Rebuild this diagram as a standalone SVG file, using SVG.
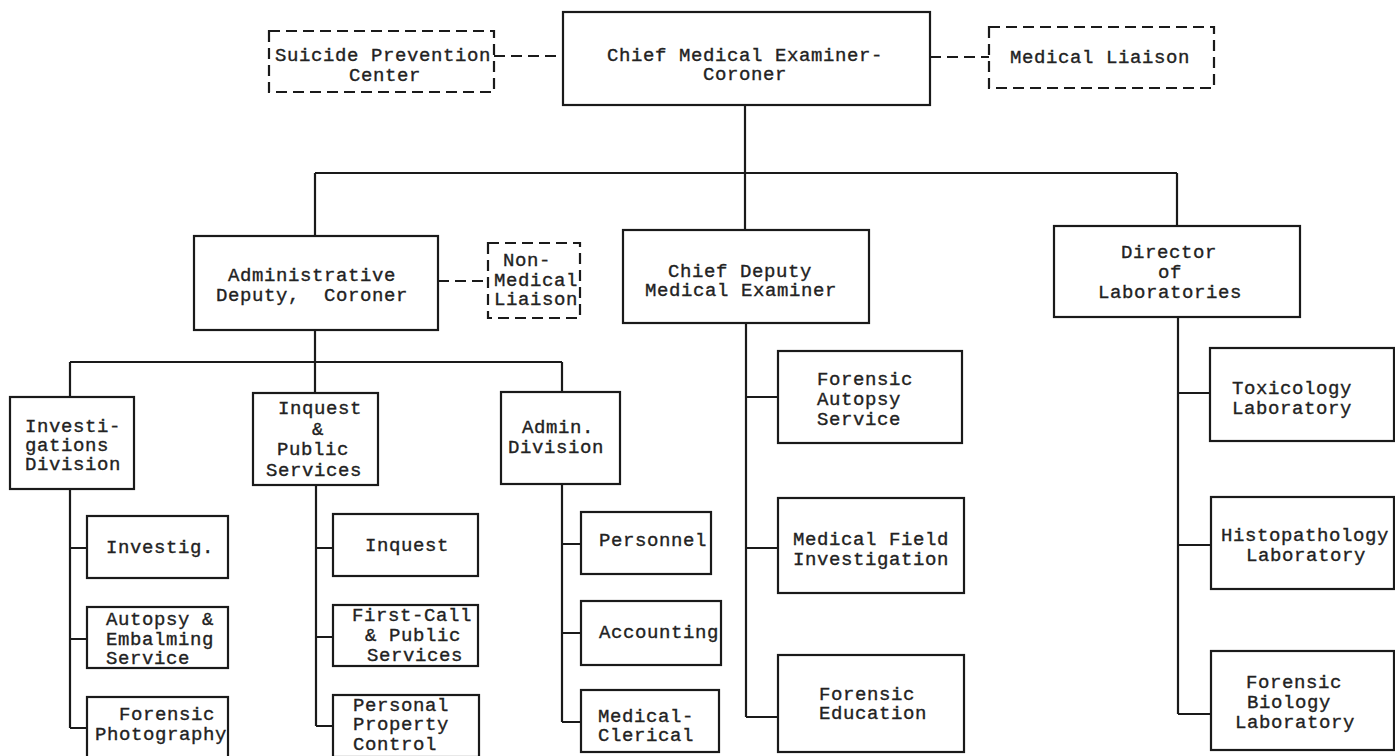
<svg xmlns="http://www.w3.org/2000/svg" width="1395" height="756" viewBox="0 0 1395 756">
<style>
.box{fill:#fff;stroke:#1a1a1a;stroke-width:2.2}
.dbox{fill:#fff;stroke:#1a1a1a;stroke-width:2.2;stroke-dasharray:11 6}
.ln{fill:none;stroke:#1a1a1a;stroke-width:2.2}
.dln{fill:none;stroke:#1a1a1a;stroke-width:2.2;stroke-dasharray:11 6}
text{font-family:"Liberation Mono","DejaVu Sans Mono",monospace;font-size:19px;letter-spacing:0.6px;fill:#222;stroke:#222;stroke-width:0.35;white-space:pre}
.m{text-anchor:middle}
</style>
<rect width="1395" height="756" fill="#fff"/>
<g id="connectors">
<path class="dln" d="M494 56 H563"/>
<path class="dln" d="M930 57 H989"/>
<path class="dln" d="M438 281 H488"/>
<path class="ln" d="M745 105 V173 M315 173 H1177 M315 173 V236 M745 173 V230 M1177 173 V226"/>
<path class="ln" d="M315 330 V362 M70 362 H562 M70 362 V397 M315 362 V393 M562 362 V392"/>
<path class="ln" d="M70 489 V728 M70 548 H87 M70 639 H87 M70 728 H87"/>
<path class="ln" d="M316 485 V726 M316 548 H333 M316 637 H333 M316 726 H333"/>
<path class="ln" d="M562 484 V722 M562 544 H580 M562 633 H580 M562 722 H580"/>
<path class="ln" d="M746 323 V717 M746 397 H778 M746 548 H778 M746 717 H778"/>
<path class="ln" d="M1178 317 V714 M1178 393 H1210 M1178 545 H1211 M1178 714 H1211"/>
</g>
<g id="n-cme"><rect class="box" x="563" y="12" width="367" height="93"/><text class="m" x="745" y="61">Chief Medical Examiner-</text><text class="m" x="745" y="80">Coroner</text></g>
<g id="n-spc"><rect class="dbox" x="269" y="31" width="225" height="61"/><text class="m" x="383" y="61">Suicide Prevention</text><text class="m" x="385" y="81">Center</text></g>
<g id="n-ml"><rect class="dbox" x="989" y="27" width="225" height="61"/><text class="m" x="1100" y="63">Medical Liaison</text></g>
<g id="n-adc"><rect class="box" x="194" y="236" width="244" height="94"/><text class="m" x="312" y="281">Administrative</text><text class="m" x="312" y="301">Deputy,  Coroner</text></g>
<g id="n-nml"><rect class="dbox" x="488" y="243" width="92" height="75"/><text x="503" y="266">Non-</text><text x="494" y="286">Medical</text><text x="494" y="305">Liaison</text></g>
<g id="n-cdme"><rect class="box" x="623" y="230" width="246" height="93"/><text class="m" x="740" y="277">Chief Deputy</text><text class="m" x="741" y="296">Medical Examiner</text></g>
<g id="n-dol"><rect class="box" x="1054" y="226" width="246" height="91"/><text class="m" x="1169" y="258">Director</text><text class="m" x="1170" y="278">of</text><text class="m" x="1170" y="298">Laboratories</text></g>
<g id="n-inv"><rect class="box" x="10" y="397" width="124" height="92"/><text x="25" y="432">Investi-</text><text x="25" y="451">gations</text><text x="25" y="470">Division</text></g>
<g id="n-ips"><rect class="box" x="253" y="393" width="125" height="92"/><text class="m" x="320" y="414">Inquest</text><text class="m" x="318" y="435">&amp;</text><text class="m" x="313" y="455">Public</text><text class="m" x="314" y="476">Services</text></g>
<g id="n-adm"><rect class="box" x="501" y="392" width="119" height="92"/><text class="m" x="558" y="433">Admin.</text><text class="m" x="556" y="453">Division</text></g>
<g id="n-investig"><rect class="box" x="87" y="516" width="141" height="62"/><text x="106" y="553">Investig.</text></g>
<g id="n-aes"><rect class="box" x="87" y="607" width="141" height="61"/><text x="106" y="625">Autopsy &amp;</text><text x="106" y="645">Embalming</text><text x="106" y="664">Service</text></g>
<g id="n-fp"><rect class="box" x="87" y="697" width="141" height="62"/><text x="119" y="720">Forensic</text><text x="95" y="740">Photography</text></g>
<g id="n-inq"><rect class="box" x="333" y="514" width="145" height="62"/><text class="m" x="407" y="551">Inquest</text></g>
<g id="n-fc"><rect class="box" x="333" y="605" width="145" height="61"/><text x="352" y="621">First-Call</text><text x="365" y="641">&amp; Public</text><text x="367" y="661">Services</text></g>
<g id="n-ppc"><rect class="box" x="333" y="695" width="146" height="62"/><text x="353" y="711">Personal</text><text x="353" y="730">Property</text><text x="353" y="750">Control</text></g>
<g id="n-per"><rect class="box" x="581" y="512" width="130" height="62"/><text class="m" x="653" y="546">Personnel</text></g>
<g id="n-acc"><rect class="box" x="581" y="601" width="140" height="64"/><text class="m" x="659" y="638">Accounting</text></g>
<g id="n-mc"><rect class="box" x="581" y="690" width="138" height="62"/><text x="598" y="722">Medical-</text><text x="598" y="741">Clerical</text></g>
<g id="n-fas"><rect class="box" x="778" y="351" width="184" height="92"/><text x="817" y="385">Forensic</text><text x="817" y="405">Autopsy</text><text x="817" y="425">Service</text></g>
<g id="n-mfi"><rect class="box" x="778" y="498" width="186" height="95"/><text class="m" x="871" y="545">Medical Field</text><text class="m" x="871" y="565">Investigation</text></g>
<g id="n-fe"><rect class="box" x="778" y="655" width="186" height="97"/><text x="819" y="700">Forensic</text><text x="819" y="719">Education</text></g>
<g id="n-tox"><rect class="box" x="1210" y="348" width="184" height="93"/><text x="1232" y="394">Toxicology</text><text x="1232" y="414">Laboratory</text></g>
<g id="n-his"><rect class="box" x="1211" y="497" width="183" height="92"/><text x="1221" y="541">Histopathology</text><text x="1246" y="561">Laboratory</text></g>
<g id="n-fbl"><rect class="box" x="1211" y="651" width="183" height="99"/><text x="1246" y="688">Forensic</text><text x="1247" y="708">Biology</text><text x="1235" y="728">Laboratory</text></g>
</svg>
